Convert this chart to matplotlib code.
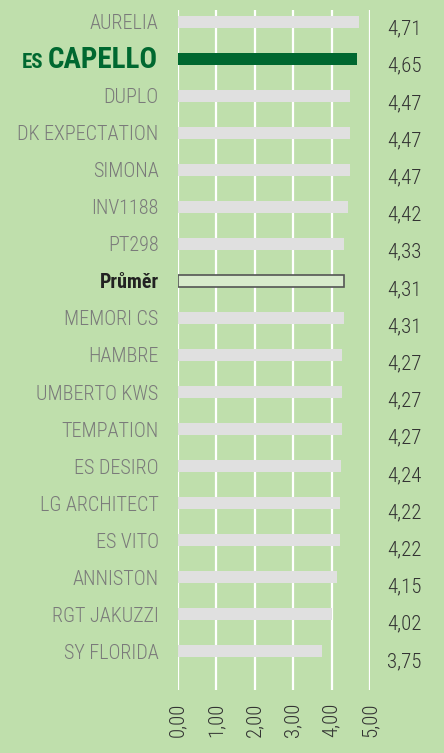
import numpy as np
import matplotlib.pyplot as plt
from matplotlib import font_manager

names = ["AURELIA", "ES CAPELLO", "DUPLO", "DK EXPECTATION", "SIMONA", "INV1188",
         "PT298", "Průměr", "MEMORI CS", "HAMBRE", "UMBERTO KWS", "TEMPATION",
         "ES DESIRO", "LG ARCHITECT", "ES VITO", "ANNISTON", "RGT JAKUZZI", "SY FLORIDA"]
values = [4.71, 4.65, 4.47, 4.47, 4.47, 4.42, 4.33, 4.31, 4.31, 4.27, 4.27, 4.27,
          4.24, 4.22, 4.22, 4.15, 4.02, 3.75]
ticks = [0, 1, 2, 3, 4, 5]
tick_labels = ["0,00", "1,00", "2,00", "3,00", "4,00", "5,00"]

# pick a narrow face if one is installed
available = {f.name for f in font_manager.fontManager.ttflist}
FONT = "Roboto"
for cand in ["Roboto Condensed", "Liberation Sans Narrow", "DejaVu Sans Condensed"]:
    if cand in available:
        FONT = cand
        break
plt.rcParams['font.family'] = [FONT, 'DejaVu Sans']
plt.rcParams['font.stretch'] = 'condensed'

BG = "#bfdfac"
GREY_BAR = "#e0e0e0"
HIGHLIGHT = "#006830"
LABEL = "#7a7a7a"

fig = plt.figure(figsize=(4.44, 7.53), dpi=100, facecolor=BG)
ax = fig.add_axes([178 / 444, 1 - 690 / 753, 192 / 444, 680 / 753])
ax.set_facecolor(BG)

y = np.arange(len(names))
for i, (n, v) in enumerate(zip(names, values)):
    if n == "ES CAPELLO":
        ax.barh(i, v, height=0.33, color=HIGHLIGHT, zorder=3)
    elif n == "Průměr":
        ax.barh(i, v, height=0.33, color="#d8ebcc", edgecolor="#555555", linewidth=1.2, zorder=3)
    else:
        ax.barh(i, v, height=0.33, color=GREY_BAR, zorder=3)

ax.set_xlim(0, 5)
ax.set_ylim(18.05, -0.32)
for t in ticks:
    ax.axvline(t, color="white", linewidth=1.6, zorder=1)

for s in ax.spines.values():
    s.set_visible(False)

ax.set_xticks(ticks)
ax.set_xticklabels(tick_labels, rotation=90, fontsize=15, color="#333333", fontweight="light")
ax.tick_params(axis='x', length=0, pad=9)

ax.set_yticks(y)
ax.set_yticklabels(["" if n == "ES CAPELLO" else n for n in names])
ax.tick_params(axis='y', length=0, pad=14)
for lbl, n in zip(ax.get_yticklabels(), names):
    lbl.set_fontsize(14.5)
    lbl.set_color(LABEL)
    lbl.set_fontweight("light")
    if n == "Průměr":
        lbl.set_color("#222222")
        lbl.set_fontweight("bold")

# ES CAPELLO label drawn by hand: small "ES" + large "CAPELLO"
cap = fig.text(158 / 444, 1 - 68 / 753, "CAPELLO", ha="right", va="baseline",
               fontsize=21, fontweight="bold", color=HIGHLIGHT)
fig.canvas.draw()
bb = cap.get_window_extent()
fig.text((bb.x0 - 5) / 444, 1 - 68 / 753, "ES", ha="right", va="baseline",
         fontsize=15, fontweight="bold", color=HIGHLIGHT)

for i, v in enumerate(values):
    fig.text(387 / 444, 1 - (29 + i * 37.2) / 753, f"{v:.2f}".replace(".", ","),
             ha="left", va="center", fontsize=15, color="#333333", fontweight="light")

fig.savefig("out.png", dpi=100, facecolor=BG)
